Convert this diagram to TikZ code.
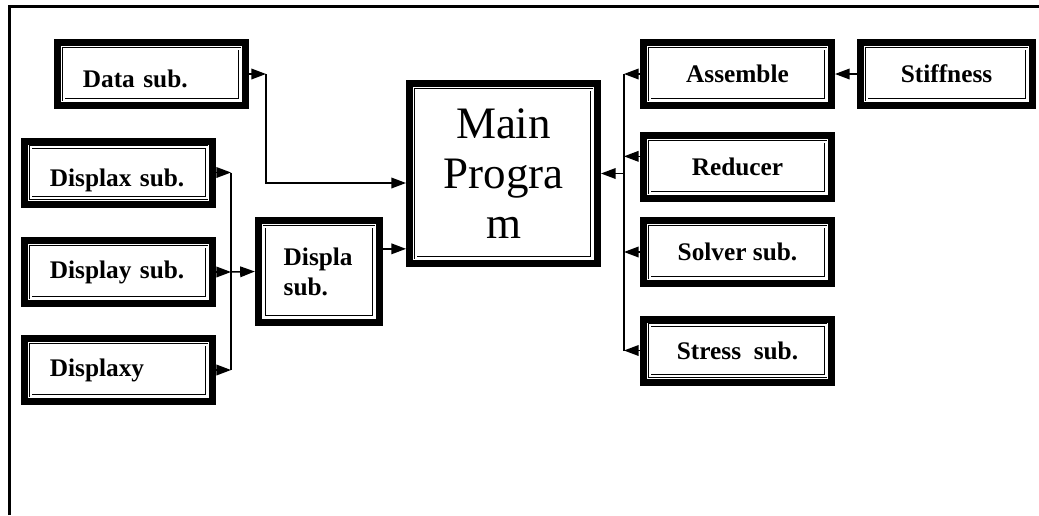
\documentclass[tikz,border=0pt]{standalone}
\usepackage{fontspec}
\setmainfont{Liberation Serif}
\usepackage{tikz}
\usetikzlibrary{arrows.meta}
\usetikzlibrary{calc}

\tikzset{
	subbox/.style={draw=black,line width=5.25pt,fill=white,inner sep=0pt,minimum height=47.25pt,
		font=\fontsize{19}{22}\selectfont\bfseries,
		path picture={\draw[line width=0.6pt,double=white,double distance=1.5pt]
			([shift={(4.5pt,-4.5pt)}]path picture bounding box.north west) rectangle
			([shift={(-4.5pt,4.5pt)}]path picture bounding box.south east);}},
	leftbox/.style={subbox,minimum width=141pt,text width=103pt,inner xsep=19pt,align=left},
	rightbox/.style={subbox,minimum width=141pt,align=center},
	link/.style={line width=1.1pt},
	tip/.style={-{Triangle[length=11pt,width=8pt]}},
	frame/.style={line width=2.25pt}
}

\begin{document}
\begin{tikzpicture}[x=0.75pt,y=-0.75pt]
		\useasboundingbox (0,0) rectangle (1039,515);
		\draw[frame] (9.5,515) -- (9.5,6) -- (1039,6);
		
		% left side
		\node[leftbox,text height=20.5pt,text depth=0.3pt] (data) at (151.5,74) {Data sub.};
		\node[leftbox,text height=25pt,text depth=4.1pt] (displax) at (118.5,172.5) {Displax sub.};
		\node[leftbox] (display) at (118.5,272) {Display sub.};
		\node[leftbox] (displaxy) at (118.5,370) {Displaxy};
		\node[subbox,minimum width=90.75pt,minimum height=76.5pt,text width=53pt,inner xsep=19pt,align=left,
			font=\fontsize{19}{22.5}\selectfont\bfseries] (displa) at (319,271.5) {Displa\\sub.};
		
		% main
		\node[subbox,minimum width=141pt,minimum height=135pt,align=center,
			font=\fontsize{33.75}{37.5}\selectfont] (main) at (503.5,173.5) {Main\\Progra\\m};
		
		% right side
		\node[rightbox] (assemble) at (737.5,74) {Assemble};
		\node[rightbox,minimum width=129pt] (stiffness) at (946.5,74) {Stiffness};
		\node[rightbox] (reducer) at (737.5,167) {Reducer};
		\node[rightbox] (solver) at (737.5,252) {Solver sub.};
		\node[rightbox] (stress) at (737.5,350.5) {Stress\ \ sub.};
		
		\coordinate (datajoint) at (266,183);
		\coordinate (lbus) at (231,272);
		\coordinate (rbus) at (624,173.5);
		\coordinate (displaout) at ([yshift=17pt]displa.east);
		\coordinate (reducerout) at ([yshift=8pt]reducer.west);
		
		\draw[link,tip] (data.east) -- (data.east -| datajoint);
		\draw[link,tip] (data.east -| datajoint) -- (datajoint) -- (datajoint -| main.west);
		
		\draw[link,tip] (displax.east) -- (displax.east -| lbus);
		\draw[link,tip] (display.east) -- (lbus);
		\draw[link,tip] (displaxy.east) -- (displaxy.east -| lbus);
		\draw[link] (displax.east -| lbus) -- (displaxy.east -| lbus);
		\draw[link,tip] (lbus) -- (displa.west);
		\draw[link,tip] (displaout) -- (displaout -| main.west);
		
		\draw[link,tip] (stiffness.west) -- (assemble.east);
		\draw[link,tip] (assemble.west) -- (assemble.west -| rbus);
		\draw[link,tip] (reducerout) -- (reducerout -| rbus);
		\draw[link,tip] (solver.west) -- (solver.west -| rbus);
		\draw[link,tip] (stress.west) -- (stress.west -| rbus);
		\draw[link] (assemble.west -| rbus) -- (stress.west -| rbus);
		\draw[link,tip] (rbus) -- (main.east);
		
	\end{tikzpicture}
\end{document}
